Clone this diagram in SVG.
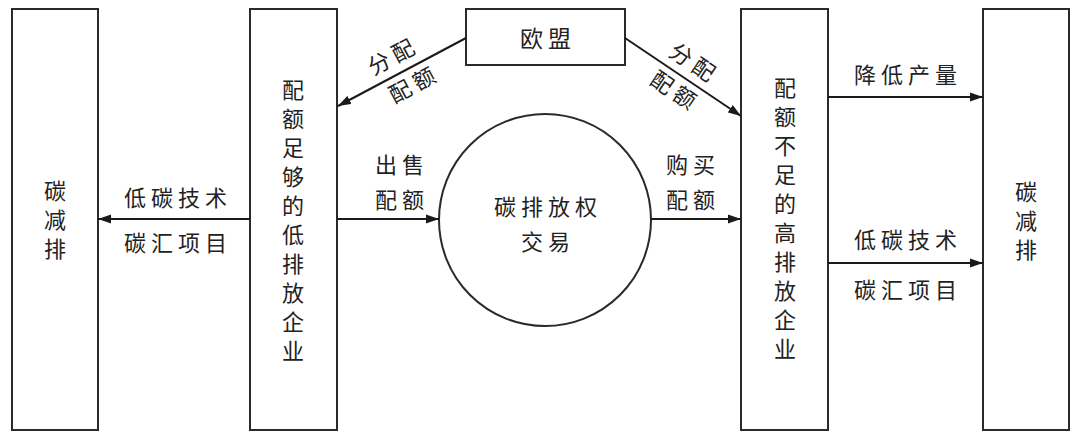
<svg xmlns="http://www.w3.org/2000/svg" width="1080" height="441" viewBox="0 0 1080 441">
<style>
.box{fill:#fff;stroke:#2a2a2a;stroke-width:2}
.ln{stroke:#1a1a1a;stroke-width:2;fill:none}
text{font-family:"Noto Sans CJK SC","Noto Sans",sans-serif;font-size:22px;fill:#222}
.lab{text-anchor:middle;letter-spacing:5px}
.vt{text-anchor:middle}
</style>
<defs>
<marker id="ah" markerUnits="userSpaceOnUse" markerWidth="14" markerHeight="10" refX="13" refY="5" orient="auto">
<path d="M0,0.5 L13,5 L0,9.5 z" fill="#1a1a1a"/>
</marker>
</defs>
<rect width="1080" height="441" fill="#fff"/>
<g id="node-left-reduce">
<rect class="box" x="12" y="9" width="86" height="421"/>
<text class="vt"><tspan x="55" y="199">碳</tspan><tspan x="55" y="228">减</tspan><tspan x="55" y="257">排</tspan></text>
</g>
<g id="node-low-emission">
<rect class="box" x="250" y="9" width="87" height="421"/>
<text class="vt"><tspan x="293" y="98">配</tspan><tspan x="293" y="127">额</tspan><tspan x="293" y="156">足</tspan><tspan x="293" y="185">够</tspan><tspan x="293" y="214">的</tspan><tspan x="293" y="243">低</tspan><tspan x="293" y="272">排</tspan><tspan x="293" y="301">放</tspan><tspan x="293" y="330">企</tspan><tspan x="293" y="359">业</tspan></text>
</g>
<g id="node-eu">
<rect class="box" x="466" y="9" width="159" height="56"/>
<text class="lab" x="548" y="47" style="font-size:23px">欧盟</text>
</g>
<g id="node-trading">
<circle class="box" cx="545" cy="220" r="106"/>
<text class="lab" x="548" y="215">碳排放权</text>
<text class="lab" x="548" y="250">交易</text>
</g>
<g id="node-high-emission">
<rect class="box" x="741" y="9" width="87" height="421"/>
<text class="vt"><tspan x="785" y="96">配</tspan><tspan x="785" y="125">额</tspan><tspan x="785" y="154">不</tspan><tspan x="785" y="183">足</tspan><tspan x="785" y="212">的</tspan><tspan x="785" y="241">高</tspan><tspan x="785" y="270">排</tspan><tspan x="785" y="299">放</tspan><tspan x="785" y="328">企</tspan><tspan x="785" y="357">业</tspan></text>
</g>
<g id="node-right-reduce">
<rect class="box" x="983" y="9" width="86" height="421"/>
<text class="vt"><tspan x="1026" y="200">碳</tspan><tspan x="1026" y="229">减</tspan><tspan x="1026" y="258">排</tspan></text>
</g>
<g id="connectors">
<line class="ln" x1="466" y1="38" x2="338" y2="106" marker-end="url(#ah)"/>
<line class="ln" x1="625" y1="38" x2="741" y2="116" marker-end="url(#ah)"/>
<line class="ln" x1="250" y1="219" x2="98" y2="219" marker-end="url(#ah)"/>
<line class="ln" x1="337" y1="219" x2="439" y2="219" marker-end="url(#ah)"/>
<line class="ln" x1="651" y1="219" x2="741" y2="219" marker-end="url(#ah)"/>
<line class="ln" x1="828" y1="97" x2="983" y2="97" marker-end="url(#ah)"/>
<line class="ln" x1="828" y1="263" x2="983" y2="263" marker-end="url(#ah)"/>
<text class="lab" transform="translate(397,63) rotate(-28)">分配</text>
<text class="lab" transform="translate(418,91) rotate(-28)">配额</text>
<text class="lab" transform="translate(690,70) rotate(34)">分配</text>
<text class="lab" transform="translate(671,98) rotate(34)">配额</text>
<text class="lab" x="178" y="206">低碳技术</text>
<text class="lab" x="178" y="251">碳汇项目</text>
<text class="lab" x="402" y="173">出售</text>
<text class="lab" x="402" y="208">配额</text>
<text class="lab" x="693" y="173">购买</text>
<text class="lab" x="693" y="208">配额</text>
<text class="lab" x="908" y="83">降低产量</text>
<text class="lab" x="908" y="248">低碳技术</text>
<text class="lab" x="908" y="298">碳汇项目</text>
</g>
</svg>
